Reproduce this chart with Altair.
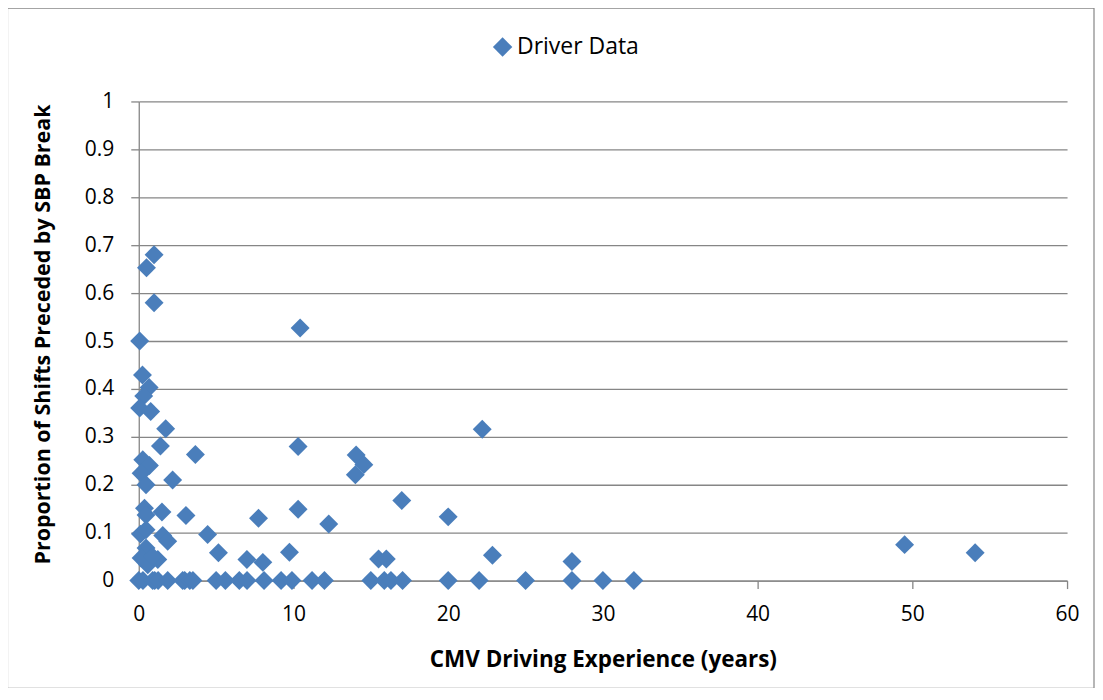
import altair as alt
import pandas as pd

# CMV driving experience (years) and proportion of shifts preceded by SBP break
exp_years = [
    0.99, 0.50, 0.99, 0.06, 10.43, 0.24, 0.67, 0.32, 0.06, 0.77,
    1.74, 22.20, 1.40, 10.30, 3.66, 14.05, 0.26, 14.55, 0.69, 0.15,
    14.00, 2.19, 0.47, 17.00, 0.37, 10.30, 1.50, 0.47, 3.05, 20.00,
    7.74, 12.28, 0.11, 0.47, 1.55, 4.45, 1.87, 0.47, 5.15, 9.74,
    0.15, 1.23, 0.58, 0.90, 6.99, 8.02, 15.50, 16.00, 22.86, 28.00,
    49.50, 54.06,
    0.00, 0.27, 0.90, 1.03, 1.25, 1.87, 2.84, 2.97, 3.30, 3.50,
    5.00, 5.60, 6.50, 7.00, 8.10, 9.20, 9.90, 11.20, 12.00, 15.00,
    15.87, 16.30, 17.05, 20.00, 22.00, 25.00, 28.00, 30.00, 32.00,
]
proportion = [
    0.680, 0.653, 0.580, 0.500, 0.527, 0.429, 0.403, 0.385, 0.360, 0.353,
    0.317, 0.316, 0.281, 0.280, 0.263, 0.262, 0.252, 0.242, 0.240, 0.224,
    0.221, 0.210, 0.200, 0.167, 0.151, 0.149, 0.143, 0.137, 0.136, 0.133,
    0.130, 0.118, 0.097, 0.106, 0.094, 0.096, 0.082, 0.068, 0.058, 0.059,
    0.047, 0.044, 0.033, 0.050, 0.044, 0.038, 0.045, 0.045, 0.053, 0.040,
    0.075, 0.058,
    0, 0, 0, 0, 0, 0, 0, 0, 0, 0,
    0, 0, 0, 0, 0, 0, 0, 0, 0, 0,
    0, 0, 0, 0, 0, 0, 0, 0, 0,
]
series_name = "Driver Data"
x_ticks = [0, 10, 20, 30, 40, 50, 60]
y_ticks = [0, 0.1, 0.2, 0.3, 0.4, 0.5, 0.6, 0.7, 0.8, 0.9, 1.0]

df = pd.DataFrame({"exp": exp_years, "prop": proportion, "series": series_name})

FONT = "Open Sans"
GRAY = "#868686"
BLUE = "#4A7EBB"

points = alt.Chart(df).mark_point(
    shape="diamond", filled=True, size=360, opacity=1, strokeWidth=0
).encode(
    x=alt.X("exp:Q",
            scale=alt.Scale(domain=[0, 60], nice=False, zero=True),
            axis=alt.Axis(values=x_ticks, grid=False, title="CMV Driving Experience (years)",
                          tickSize=8, labelPadding=15, labelFlush=False,
                          titleFontSize=22.5, titleY=79, titleBaseline="middle")),
    y=alt.Y("prop:Q",
            scale=alt.Scale(domain=[0, 1], nice=False),
            axis=alt.Axis(values=y_ticks, grid=True, format="~g", labelFlush=False,
                          title="Proportion of Shifts Preceded by SBP Break",
                          tickSize=8, labelPadding=17, titleFontSize=21.5,
                          titleX=-95, titleY=233,
                          titleAlign="center", titleBaseline="middle")),
    color=alt.Color("series:N",
                    scale=alt.Scale(domain=[series_name], range=[BLUE]),
                    legend=alt.Legend(orient="none", legendX=353, legendY=-66, title=None,
                                      symbolType="diamond", symbolSize=380,
                                      symbolStrokeWidth=0, labelFontSize=23,
                                      labelFont=FONT, labelColor="#000000",
                                      labelOffset=3, padding=0)),
)

border = alt.Chart(pd.DataFrame({"a": [0]})).mark_rect(
    fill="transparent", stroke=GRAY, strokeWidth=1.2
).encode(
    x=alt.value(-131.5), x2=alt.value(957), y=alt.value(-93.5), y2=alt.value(588)
)

chart = alt.layer(border, points).properties(
    width=930, height=480,
    autosize=alt.AutoSizeParams(type="none"),
    padding={"left": 131, "top": 93, "right": 28, "bottom": 107},
    background="white",
).configure_view(strokeWidth=0).configure_axis(
    gridColor=GRAY, gridWidth=1.3, domainColor=GRAY, domainWidth=1.3,
    tickColor=GRAY, tickWidth=1.3,
    labelFont=FONT, labelFontSize=21, labelColor="#000000",
    titleFont=FONT, titleFontSize=21, titleFontWeight="bold", titleColor="#000000",
)

chart.save("out.html", embed_options={"renderer": "svg", "actions": False})
